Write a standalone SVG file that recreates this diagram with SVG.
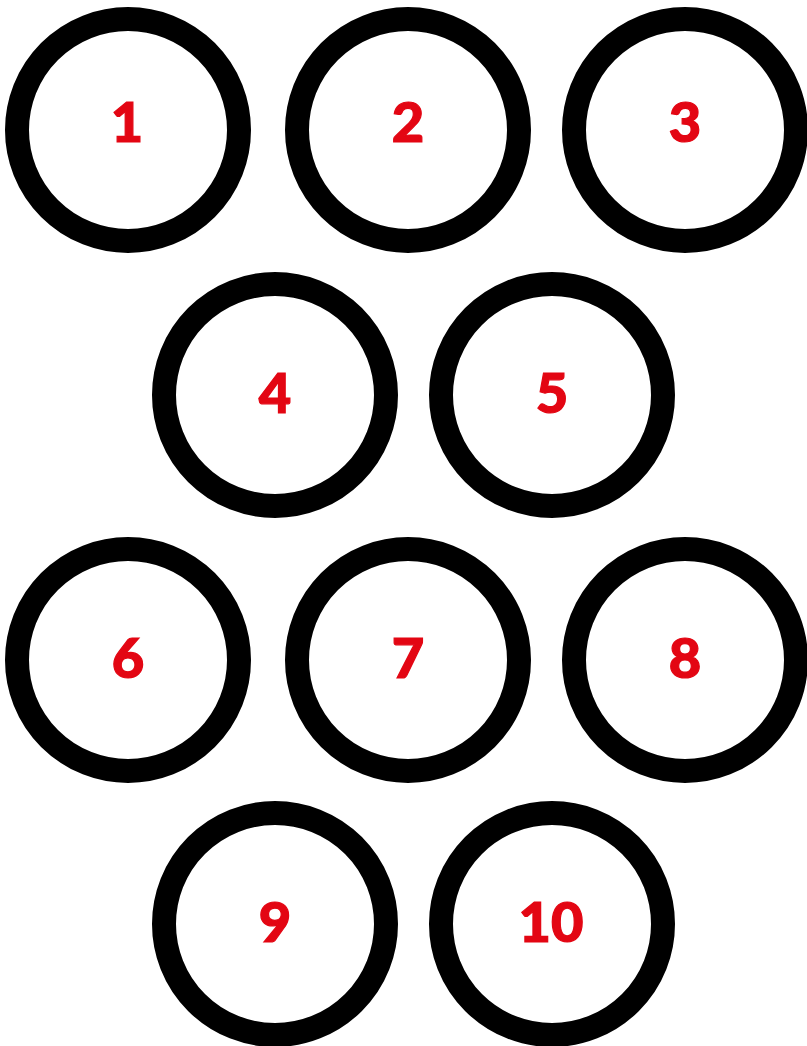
<svg xmlns="http://www.w3.org/2000/svg" width="807" height="1046" viewBox="0 0 807 1046">
<style>
.ring{fill:none;stroke:#000;stroke-width:24}
.lbl{font-family:Lato,"Liberation Sans",sans-serif;font-weight:900;font-size:56px;fill:#e30613;stroke:#e30613;stroke-width:1.2;text-anchor:middle}
</style>
<rect width="807" height="1046" fill="#fff"/>
<g id="node1"><circle class="ring" cx="128" cy="130" r="111"/><text class="lbl" x="127" y="142">1</text></g>
<g id="node2"><circle class="ring" cx="408" cy="130" r="111"/><text class="lbl" x="408" y="142">2</text></g>
<g id="node3"><circle class="ring" cx="685" cy="130" r="111"/><text class="lbl" x="685" y="142">3</text></g>
<g id="node4"><circle class="ring" cx="275" cy="395" r="111"/><text class="lbl" x="275" y="413">4</text></g>
<g id="node5"><circle class="ring" cx="552" cy="395" r="111"/><text class="lbl" x="552" y="413">5</text></g>
<g id="node6"><circle class="ring" cx="128" cy="660" r="111"/><text class="lbl" x="128" y="678">6</text></g>
<g id="node7"><circle class="ring" cx="408" cy="660" r="111"/><text class="lbl" x="408" y="678">7</text></g>
<g id="node8"><circle class="ring" cx="685" cy="660" r="111"/><text class="lbl" x="685" y="678">8</text></g>
<g id="node9"><circle class="ring" cx="275" cy="924" r="111"/><text class="lbl" x="275" y="942">9</text></g>
<g id="node10"><circle class="ring" cx="552" cy="924" r="111"/><text class="lbl" x="551" y="942">10</text></g>
<g id="connectors"></g>
</svg>
